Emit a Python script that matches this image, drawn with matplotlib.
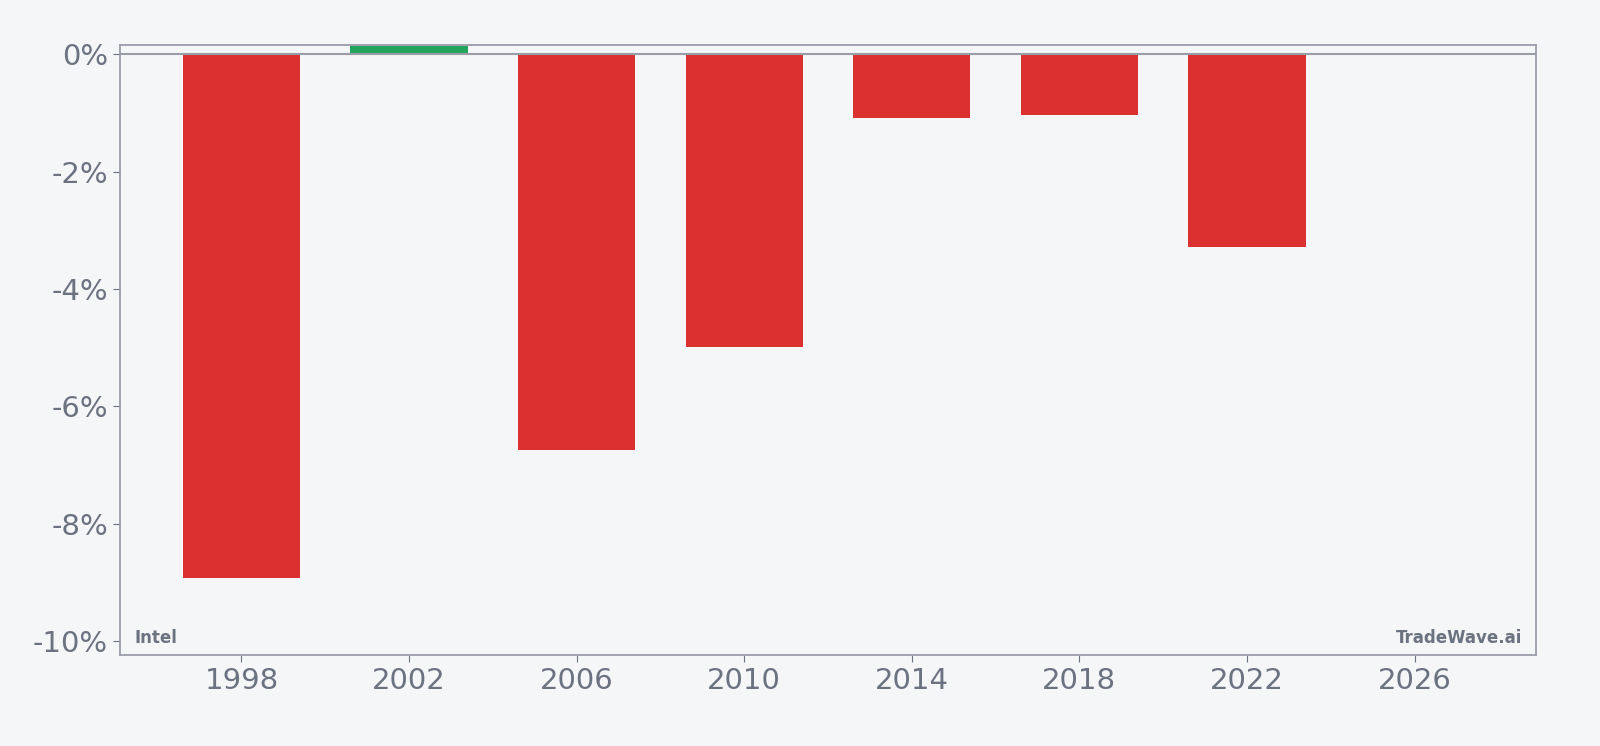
import matplotlib
matplotlib.use("Agg")
import matplotlib.pyplot as plt
from matplotlib.ticker import FuncFormatter

years = [1998, 2002, 2006, 2010, 2014, 2018, 2022]
values = [-8.92, 0.15, -6.75, -4.99, -1.08, -1.04, -3.29]
xticks = [1998, 2002, 2006, 2010, 2014, 2018, 2022, 2026]
yticks = [0, -2, -4, -6, -8, -10]

bg = "#f5f6f8"
gray = "#6b7280"
fig = plt.figure(figsize=(16, 7.46), dpi=100, facecolor=bg)
ax = fig.add_axes([120/1600, 1-655/746, (1536-120)/1600, (655-45)/746])
ax.set_facecolor(bg)
colors = ["#22a45d" if v > 0 else "#dc3030" for v in values]
ax.bar(years, values, width=2.8, color=colors, zorder=2)
ax.axhline(0, color="#9a9ca8", lw=1.5, zorder=3)
ax.set_xlim(1995.1, 2028.9)
ax.set_ylim(-10.24, 0.16)
ax.set_xticks(xticks)
ax.set_yticks(yticks)
ax.yaxis.set_major_formatter(FuncFormatter(lambda v, p: f"{v:.0f}%"))
ax.tick_params(colors=gray, labelsize=21, length=5)
for s in ax.spines.values():
    s.set_color("#9a9ca8")
    s.set_linewidth(1.3)
ax.text(0.01, 0.02, "Intel", transform=ax.transAxes, color=gray, fontsize=12, fontweight="bold")
ax.text(0.99, 0.02, "TradeWave.ai", transform=ax.transAxes, color=gray, fontsize=12, fontweight="bold", ha="right")
fig.savefig("out.png", dpi=100, facecolor=bg)
